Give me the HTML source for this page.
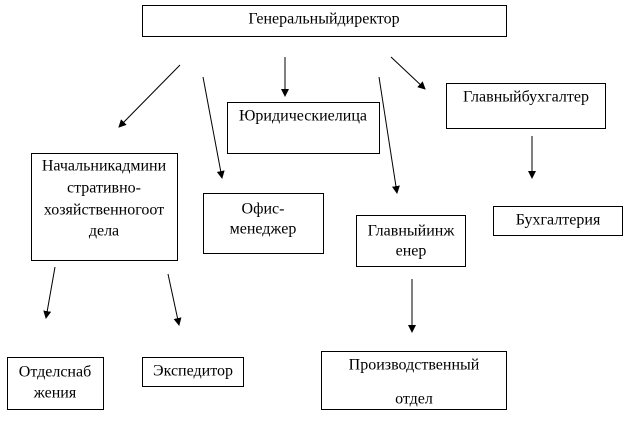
<!DOCTYPE html>
<html><head><meta charset="utf-8"><style>
html,body{margin:0;padding:0;background:#fff;}
svg text{font-family:"Liberation Serif","Noto Serif CJK SC",serif;font-size:16px;fill:#000;text-anchor:middle;dominant-baseline:middle;}
</style></head><body>
<svg width="624" height="418" viewBox="0 0 624 418" xmlns="http://www.w3.org/2000/svg">
<defs><marker id="a" markerWidth="8" markerHeight="8" refX="7" refY="4" orient="auto" markerUnits="userSpaceOnUse"><path d="M0,0 L8,4 L0,8 z" fill="#000"/></marker></defs>
<g fill="none" stroke="#000" stroke-width="1">
<rect x="142.5" y="5.5" width="364" height="31"/>
<rect x="227.5" y="102.5" width="152" height="51"/>
<rect x="446.5" y="83.5" width="159" height="45"/>
<rect x="31.5" y="153.5" width="146" height="107"/>
<rect x="203.5" y="193.5" width="120" height="60"/>
<rect x="356.5" y="215.5" width="109" height="51"/>
<rect x="493.5" y="206.5" width="129" height="29"/>
<rect x="7.5" y="357.5" width="96" height="52"/>
<rect x="142.5" y="357.5" width="101" height="29"/>
<rect x="321.5" y="351.5" width="185" height="58"/>
</g>
<g stroke="#000" stroke-width="1" marker-end="url(#a)">
<line x1="180" y1="65" x2="119" y2="127"/>
<line x1="203" y1="77" x2="222" y2="178"/>
<line x1="285" y1="57" x2="285" y2="96"/>
<line x1="391" y1="57" x2="425" y2="89"/>
<line x1="379" y1="77" x2="397" y2="193"/>
<line x1="532" y1="136" x2="532" y2="178"/>
<line x1="55" y1="267" x2="46" y2="318"/>
<line x1="168" y1="274" x2="179" y2="325"/>
<line x1="412" y1="279" x2="412" y2="332"/>
</g>
<text x="324" y="20">Генеральныйдиректор</text>
<text x="303" y="117">Юридическиелица</text>
<text x="526" y="98">Главныйбухгалтер</text>
<text x="104" y="167">Начальникадмини</text>
<text x="104" y="189">стративно-</text>
<text x="104" y="211">хозяйственногоот</text>
<text x="104" y="232">дела</text>
<text x="263" y="210">Офис-</text>
<text x="263" y="230">менеджер</text>
<text x="411" y="232">Главныйинж</text>
<text x="411" y="252">енер</text>
<text x="558" y="221">Бухгалтерия</text>
<text x="55" y="373">Отделснаб</text>
<text x="55" y="394">жения</text>
<text x="193" y="372">Экспедитор</text>
<text x="414" y="366">Производственный</text>
<text x="414" y="400">отдел</text>
</svg>
</body></html>
